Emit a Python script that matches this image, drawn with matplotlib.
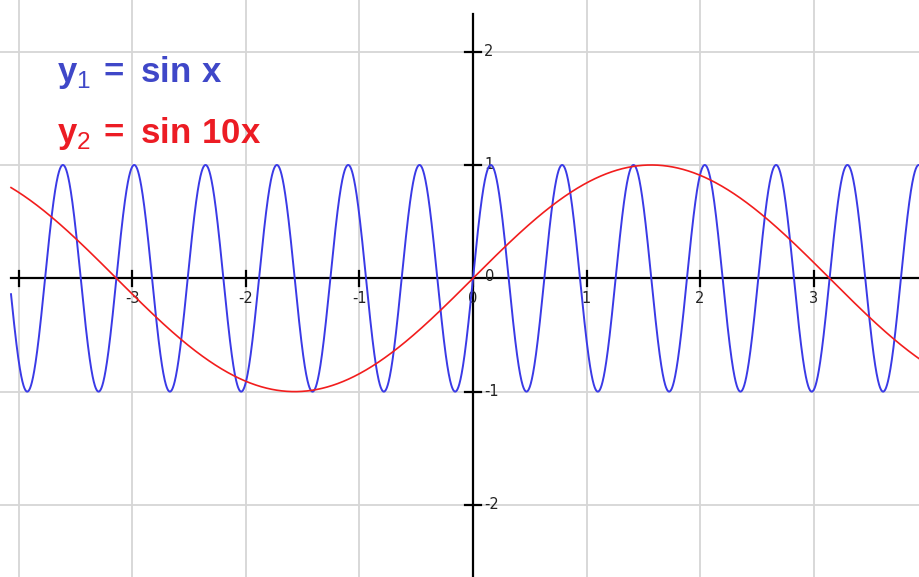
import numpy as np
import matplotlib.pyplot as plt

# curves y = sin(k x)
freq_blue = 10
freq_red = 1
x_start, x_end = -4.07, 3.94
x_ticks = [-3, -2, -1, 0, 1, 2, 3]
y_ticks = [-2, -1, 0, 1, 2]
grid_x = [-4, -3, -2, -1, 1, 2, 3]
grid_y = [-2, -1, 1, 2]

plt.rcParams['mathtext.fontset'] = 'custom'
plt.rcParams['mathtext.rm'] = 'Liberation Sans'
plt.rcParams['mathtext.bf'] = 'Liberation Sans:bold'

x = np.linspace(x_start, x_end, 4000)

fig = plt.figure(figsize=(9.2, 5.77), dpi=100)
ax = fig.add_axes([0, 0, 1, 1])
ax.set_xlim(-4.167, 3.938)
ax.set_ylim(-2.636, 2.456)
ax.axis('off')

for gx in grid_x:
    ax.axvline(gx, color='#d6d6d6', lw=1.3, zorder=0)
for gy in grid_y:
    ax.axhline(gy, color='#d6d6d6', lw=1.3, zorder=0)

# axes through the origin
ax.plot([x_start, 3.938], [0, 0], color='black', lw=1.6, zorder=2)
ax.plot([0, 0], [-2.636, 2.33], color='black', lw=1.6, zorder=2)

for t in [-4] + x_ticks:
    ax.plot([t, t], [-0.065, 0.065], color='black', lw=1.6, zorder=2)
    if t in x_ticks:
        ax.annotate(str(t), (t, 0), xytext=(0, -9), textcoords='offset points',
                    ha='center', va='top', fontsize=10.5,
                    family='DejaVu Sans', color='#222222')
for t in y_ticks:
    if t != 0:
        ax.plot([-0.07, 0.07], [t, t], color='black', lw=1.6, zorder=2)
    ax.annotate(str(t), (0, t), xytext=(8 if t != 0 else 9, 0 if t != 0 else 1),
                textcoords='offset points', ha='left', va='center', fontsize=10.5,
                family='DejaVu Sans', color='#222222')

ax.plot(x, np.sin(freq_blue * x), color='#3a3ae6', lw=1.4, zorder=3)
ax.plot(x, np.sin(freq_red * x), color='#f21d1d', lw=1.2, zorder=4)

ax.text(57 / 920, 1 - 72 / 577, r'$\mathbf{y}_{\mathrm{1}}\,\mathbf{=}\;\mathbf{sin\ x}$',
        transform=ax.transAxes, fontsize=25, color='#3f47c8', va='center', ha='left')
ax.text(57 / 920, 1 - 133 / 577, r'$\mathbf{y}_{\mathrm{2}}\,\mathbf{=}\;\mathbf{sin\ 10x}$',
        transform=ax.transAxes, fontsize=25, color='#ec1c24', va='center', ha='left')

fig.savefig('out.png', dpi=100)
